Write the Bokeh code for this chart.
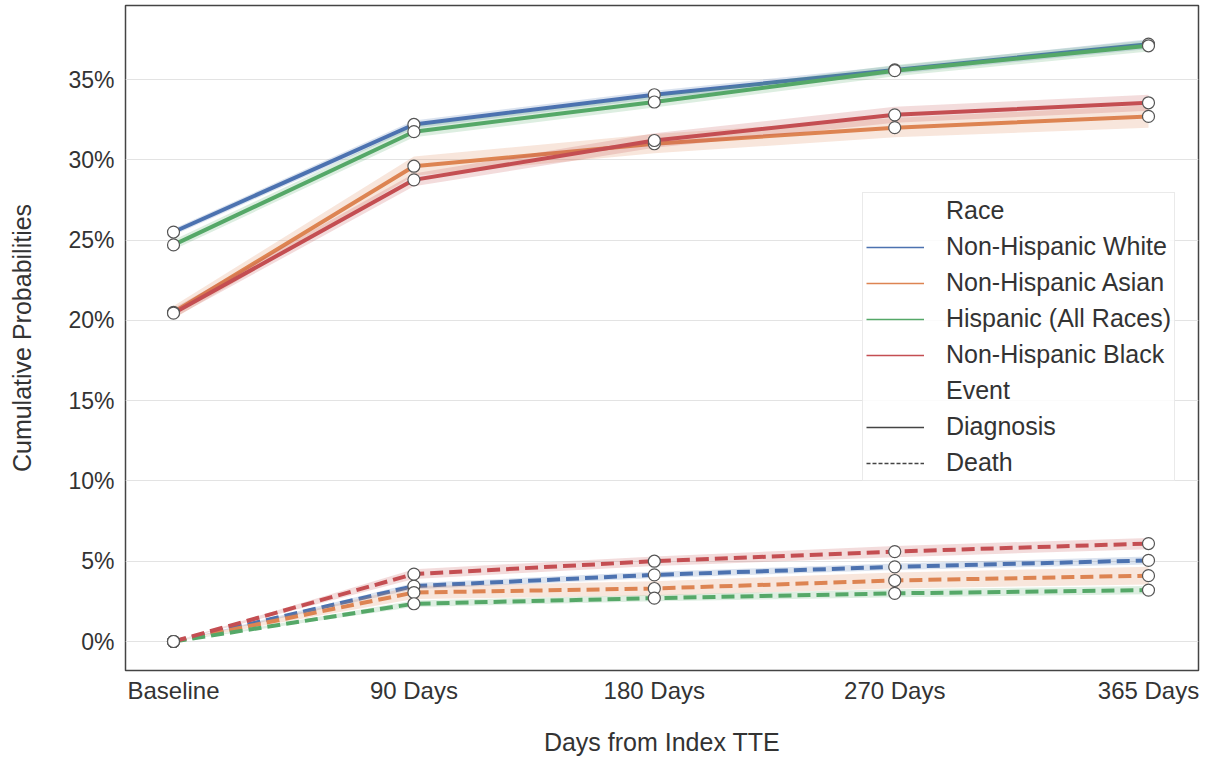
from bokeh.plotting import figure
from bokeh.models import (Range1d, FixedTicker, NumeralTickFormatter, Legend, LegendItem,
                          ColumnDataSource)
from bokeh.embed import file_html
from bokeh.resources import INLINE

# ---- data (percent) ----
x_days = [0, 90, 180, 270, 365]
x_labels = ["Baseline", "90 Days", "180 Days", "270 Days", "365 Days"]
races = ["Non-Hispanic White", "Non-Hispanic Asian", "Hispanic (All Races)", "Non-Hispanic Black"]
race_colors = ["#4c72b0", "#dd8452", "#55a868", "#c44e52"]

diag_white = [25.5, 32.2, 34.05, 35.6, 37.2]
diag_asian = [20.5, 29.6, 31.0, 32.0, 32.7]
diag_hisp = [24.7, 31.75, 33.6, 35.55, 37.1]
diag_black = [20.45, 28.75, 31.2, 32.8, 33.55]

death_white = [0.0, 3.45, 4.15, 4.65, 5.05]
death_asian = [0.0, 3.05, 3.3, 3.8, 4.1]
death_hisp = [0.0, 2.35, 2.7, 3.0, 3.2]
death_black = [0.0, 4.2, 5.0, 5.6, 6.1]

# confidence-band half widths (percent)
diag_white_ci = [0.2, 0.25, 0.25, 0.25, 0.3]
diag_asian_ci = [0.4, 0.6, 0.6, 0.6, 0.7]
diag_hisp_ci = [0.3, 0.35, 0.35, 0.35, 0.35]
diag_black_ci = [0.3, 0.4, 0.45, 0.5, 0.5]
death_white_ci = [0.0, 0.2, 0.2, 0.2, 0.25]
death_asian_ci = [0.0, 0.4, 0.45, 0.5, 0.55]
death_hisp_ci = [0.0, 0.2, 0.2, 0.25, 0.25]
death_black_ci = [0.0, 0.3, 0.3, 0.35, 0.35]

diag = [diag_white, diag_asian, diag_hisp, diag_black]
diag_ci = [diag_white_ci, diag_asian_ci, diag_hisp_ci, diag_black_ci]
death = [death_white, death_asian, death_hisp, death_black]
death_ci = [death_white_ci, death_asian_ci, death_hisp_ci, death_black_ci]

FONT = "Liberation Sans"
TXT = "#333333"

p = figure(width=1200, height=758, output_backend="svg", toolbar_location=None,
           x_range=Range1d(-17.97, 383.72), y_range=Range1d(-0.01806, 0.39609),
           min_border_left=125, min_border_right=2, min_border_top=5, min_border_bottom=86)

p.background_fill_color = "white"
p.outline_line_color = "#444444"
p.outline_line_width = 1.5
p.xgrid.grid_line_color = None
p.ygrid.grid_line_color = "#e3e3e3"
p.ygrid.grid_line_width = 1.2

p.xaxis.ticker = FixedTicker(ticks=x_days)
p.xaxis.major_label_overrides = {d: l for d, l in zip(x_days, x_labels)}
p.yaxis.ticker = FixedTicker(ticks=[0, 0.05, 0.10, 0.15, 0.20, 0.25, 0.30, 0.35])
p.yaxis.formatter = NumeralTickFormatter(format="0%")

for ax in (p.xaxis, p.yaxis):
    ax.axis_line_color = None
    ax.major_tick_line_color = None
    ax.minor_tick_line_color = None
    ax.major_label_text_font = FONT
    ax.major_label_text_color = TXT
    ax.axis_label_text_font = FONT
    ax.axis_label_text_font_size = "25px"
    ax.axis_label_text_font_style = "normal"
    ax.axis_label_text_color = TXT

p.xaxis.major_label_text_font_size = "24px"
p.yaxis.major_label_text_font_size = "23px"
p.xaxis.axis_label = "Days from Index TTE"
p.yaxis.axis_label = "Cumulative Probabilities"
p.xaxis.major_label_standoff = 0
p.xaxis.axis_label_standoff = 21
p.yaxis.major_label_standoff = 5
p.yaxis.axis_label_standoff = 29

# bands and lines
for groups, cis, dash in ((diag, diag_ci, "solid"), (death, death_ci, "13 6")):
    for vals, ci, col in zip(groups, cis, race_colors):
        y = [v / 100 for v in vals]
        lo = [(v - c) / 100 for v, c in zip(vals, ci)]
        hi = [(v + c) / 100 for v, c in zip(vals, ci)]
        p.varea(x=x_days, y1=lo, y2=hi, fill_color=col, fill_alpha=0.2)
        p.line(x_days, y, line_color=col, line_width=4, line_dash=dash)

for groups in (diag, death):
    for vals in groups:
        p.scatter(x_days, [v / 100 for v in vals], size=12, fill_color="white",
                  line_color="#555555", line_width=1.2)

# legend (proxy renderers hold no visible data)
proxy = ColumnDataSource(data=dict(x=[x_days[0]], y=[float("nan")]))
blank = p.line("x", "y", source=proxy, line_alpha=0)
items = [LegendItem(label="Race", renderers=[blank])]
for name, col in zip(races, race_colors):
    r = p.line("x", "y", source=proxy, line_color=col, line_width=1.5)
    items.append(LegendItem(label=name, renderers=[r]))
items.append(LegendItem(label="Event", renderers=[blank]))
r_diag = p.line("x", "y", source=proxy, line_color="#444444", line_width=1.5)
r_death = p.line("x", "y", source=proxy, line_color="#444444", line_width=1.5, line_dash="4 2")
items.append(LegendItem(label="Diagnosis", renderers=[r_diag]))
items.append(LegendItem(label="Death", renderers=[r_death]))

legend = Legend(items=items, location=(737, 189), label_text_font=FONT,
                label_text_font_size="25px", label_text_color=TXT,
                glyph_width=58, glyph_height=28, label_height=28, label_standoff=22,
                spacing=7, padding=3, margin=0,
                border_line_color="#d6d6d6", border_line_width=1,
                background_fill_color="white", background_fill_alpha=0.85)
p.add_layout(legend)

open("out.html", "w").write(file_html(p, INLINE))
